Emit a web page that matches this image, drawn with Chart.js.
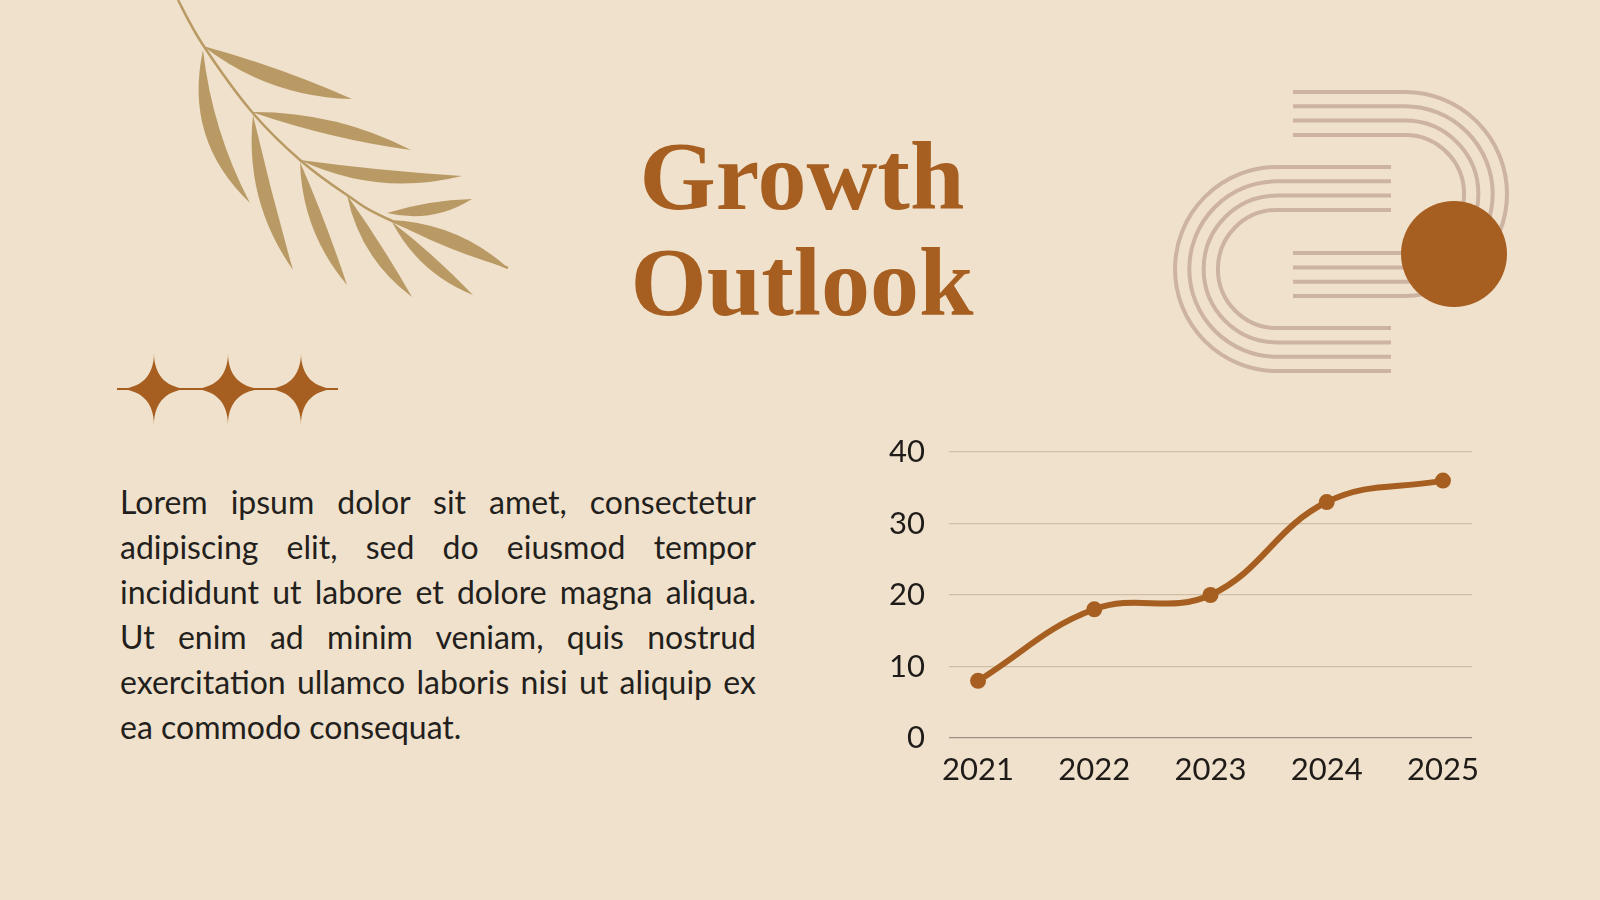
<!DOCTYPE html>
<html lang="en">
<head>
  <meta charset="UTF-8" />
  <title>Growth Outlook</title>
  <script src="https://cdn.jsdelivr.net/npm/chart.js"></script>
  <style>
    html, body {
      margin: 0;
      padding: 0;
    }
    body {
      width: 1600px;
      height: 900px;
      background-color: #f0e1cc;
      position: relative;
      overflow: hidden;
      font-family: Lato, "Open Sans", sans-serif;
    }
    #deco {
      position: absolute;
      left: 0;
      top: 0;
    }
    .title {
      position: absolute;
      left: 502px;
      top: 123px;
      width: 600px;
      text-align: center;
      font-family: "Liberation Serif", serif;
      font-weight: bold;
      font-size: 98px;
      line-height: 106px;
      color: #a65f20;
    }
    .text {
      position: absolute;
      left: 120px;
      top: 479px;
      width: 636px;
      font-size: 32px;
      line-height: 45px;
      text-align: justify;
      color: #231f1c;
    }
    .chart-box {
      position: absolute;
      left: 860px;
      top: 425px;
      width: 630px;
      height: 375px;
    }
  </style>
</head>
<body>
  <svg id="deco" width="1600" height="900"></svg>

  <div class="title">Growth<br>Outlook</div>

  <div class="text">Lorem ipsum dolor sit amet, consectetur adipiscing elit, sed do eiusmod tempor incididunt ut labore et dolore magna aliqua. Ut enim ad minim veniam, quis nostrud exercitation ullamco laboris nisi ut aliquip ex ea commodo consequat.</div>

  <div class="chart-box">
    <canvas id="growthChart"></canvas>
  </div>

  <script>
    // chart data
    const years = [2021, 2022, 2023, 2024, 2025];
    const growth = [8, 18, 20, 33, 36];
    const yTicks = [0, 10, 20, 30, 40];

    const brown = '#a65f20';

    // --- decorations (leaf, stars, arches) ---
    const svg = document.getElementById('deco');
    let deco = '';

    // smooth path through points (catmull-rom)
    function smoothPath(pts) {
      let d = `M${pts[0][0]},${pts[0][1]}`;
      for (let i = 0; i < pts.length - 1; i++) {
        const p0 = pts[i - 1] || pts[i], p1 = pts[i], p2 = pts[i + 1], p3 = pts[i + 2] || p2;
        const c1 = [p1[0] + (p2[0] - p0[0]) / 6, p1[1] + (p2[1] - p0[1]) / 6];
        const c2 = [p2[0] - (p3[0] - p1[0]) / 6, p2[1] - (p3[1] - p1[1]) / 6];
        d += ` C${c1[0]},${c1[1]} ${c2[0]},${c2[1]} ${p2[0]},${p2[1]}`;
      }
      return d;
    }

    // leaflet: base -> tip, thickness, sideways bend
    function leaflet(bx, by, tx, ty, w, bend) {
      const dx = tx - bx, dy = ty - by;
      const len = Math.hypot(dx, dy);
      const nx = dy / len, ny = -dx / len;
      const mx = (bx + tx) / 2, my = (by + ty) / 2;
      const c1x = mx + nx * (bend * 2 + w), c1y = my + ny * (bend * 2 + w);
      const c2x = mx + nx * (bend * 2 - w), c2y = my + ny * (bend * 2 - w);
      return `<path d="M${bx},${by} Q${c1x},${c1y} ${tx},${ty} Q${c2x},${c2y} ${bx},${by} Z" fill="#b99a64"/>`;
    }
    deco += `<path d="${smoothPath([[178, 0], [203, 45], [252, 112], [300, 160], [347, 195], [390, 220], [508, 268]])}" fill="none" stroke="#b99a64" stroke-width="2.5"/>`;
    [
      [203, 46, 352, 99, 16, -5],
      [203, 50, 250, 203, 15, -15],
      [252, 112, 411, 150, 14, 3],
      [253, 115, 293, 270, 14, -8],
      [300, 160, 462, 176, 13, -8],
      [300, 162, 347, 285, 13, -5],
      [387, 213, 472, 199, 12, -3],
      [347, 195, 412, 297, 13, -5],
      [390, 220, 508, 268, 15, 4],
      [392, 222, 473, 295, 12, -4]
    ].forEach(l => { deco += leaflet(...l); });

    // sparkle stars
    function star(cx, cy, rx, ry) {
      const k = 13;
      return `<path d="M${cx},${cy - ry} C${cx},${cy - k} ${cx + k},${cy} ${cx + rx},${cy}
        C${cx + k},${cy} ${cx},${cy + k} ${cx},${cy + ry}
        C${cx},${cy + k} ${cx - k},${cy} ${cx - rx},${cy}
        C${cx - k},${cy} ${cx},${cy - k} ${cx},${cy - ry} Z" fill="${brown}"/>`;
    }
    deco += `<line x1="117" y1="389" x2="338" y2="389" stroke="${brown}" stroke-width="2"/>`;
    [154, 228, 301].forEach(cx => { deco += star(cx, 389, 37, 36); });

    // arches
    for (let k = 0; k < 4; k++) {
      const r = 102 - 14.3 * k;
      deco += `<path d="M1293,${194 - r} L1405,${194 - r} A${r} ${r} 0 0 1 1405,${194 + r} L1293,${194 + r}" fill="none" stroke="#cdb3a1" stroke-width="4"/>`;
      deco += `<path d="M1391,${269 - r} L1277,${269 - r} A${r} ${r} 0 0 0 1277,${269 + r} L1391,${269 + r}" fill="none" stroke="#cdb3a1" stroke-width="4"/>`;
    }
    deco += `<circle cx="1454" cy="254" r="53" fill="${brown}"/>`;
    svg.innerHTML = deco;

    // --- chart ---
    const tickFont = { family: 'Lato', size: 31 };

    new Chart(document.getElementById('growthChart'), {
      type: 'line',
      data: {
        datasets: [{
          data: years.map((y, i) => ({ x: y, y: growth[i] })),
          borderColor: brown,
          backgroundColor: brown,
          borderWidth: 6,
          tension: 0.4,
          pointRadius: 8,
          pointHoverRadius: 8,
          pointBackgroundColor: brown,
          pointBorderWidth: 0
        }]
      },
      options: {
        responsive: true,
        maintainAspectRatio: false,
        animation: false,
        layout: { padding: { top: 27, right: 18, bottom: 0, left: 0 } },
        plugins: {
          legend: { display: false },
          tooltip: { enabled: false }
        },
        scales: {
          x: {
            type: 'linear',
            min: years[0] - 0.25,
            max: years[years.length - 1] + 0.25,
            afterBuildTicks: s => { s.ticks = years.map(v => ({ value: v })); },
            afterFit: s => {
              s.height = 62;
              s.paddingLeft = 0;
              s.paddingRight = 0;
            },
            grid: { display: false, drawTicks: false },
            border: { display: false },
            ticks: {
              font: tickFont,
              color: '#1e1b18',
              padding: 13,
              maxRotation: 0,
              callback: v => String(v)
            }
          },
          y: {
            min: 0,
            max: 40,
            afterBuildTicks: s => { s.ticks = yTicks.map(v => ({ value: v })); },
            afterFit: s => {
              s.width = 89;
              s.paddingTop = 0;
              s.paddingBottom = 0;
            },
            grid: {
              drawTicks: false,
              lineWidth: 1.2,
              color: ctx => ctx.tick && ctx.tick.value === 0 ? '#9c9184' : '#d0bfa4'
            },
            border: { display: false },
            ticks: {
              font: tickFont,
              color: '#1e1b18',
              padding: 24
            }
          }
        }
      }
    });
  </script>
</body>
</html>
